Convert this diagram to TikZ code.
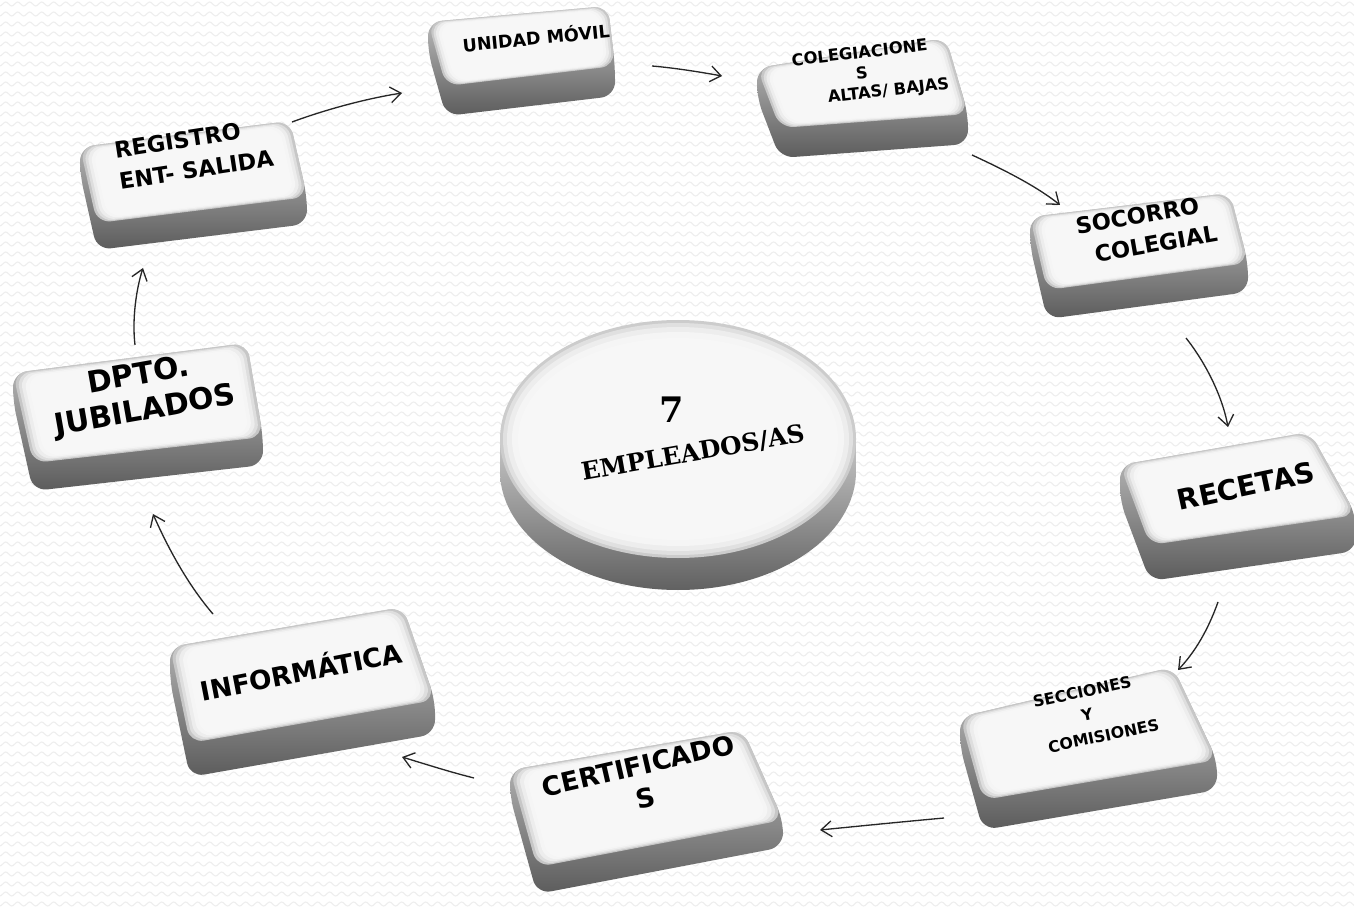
\documentclass[tikz,border=0pt]{standalone}
\usepackage{fontspec}
\usetikzlibrary{calc,arrows.meta,decorations.pathmorphing}
\newfontfamily\btnfont{DejaVu Sans}
\newfontfamily\diskfont{DejaVu Serif}
\newcommand\slab[6]{%
  \coordinate (#1-a) at (#2);
  \coordinate (#1-b) at (#3);
  \coordinate (#1-c) at (#4);
  \coordinate (#1-d) at (#5);
  \shade[top color=black!22, bottom color=black!64, rounded corners=8pt]
    (#1-a) -- (#1-b) -- (#1-c) -- ($(#1-c)+(0,#6)$) -- ($(#1-d)+(0,#6)$) -- ($(#1-a)+(0,#6)$) -- cycle;
  \foreach \ff/\cc in {0/black!22,0.012/black!13,0.025/black!7,0.04/black!4,0.055/white!97!black}{
    \fill[\cc, rounded corners=8pt] ($(#1-a)!\ff!(#1-c)$) -- ($(#1-b)!\ff!(#1-d)$) -- ($(#1-c)!\ff!(#1-a)$) -- ($(#1-d)!\ff!(#1-b)$) -- cycle;}
}
\tikzset{
  bgline/.style={draw=gray!13, line width=0.6pt, decorate, decoration={snake, segment length=0.24cm, amplitude=0.04cm}},
  btn/.style={text=black, align=center, inner sep=0pt, font=\btnfont\bfseries},
  flow/.style={draw=black!85, line width=0.75pt, -{Straight Barb[length=6pt,width=9pt]}}
}
\begin{document}
\begin{tikzpicture}[x=0.02cm, y=-0.02cm]
\useasboundingbox (0,0) rectangle (1354,908);
\clip (0,0) rectangle (1354,908);
\fill[white] (0,0) rectangle (1354,908);
\foreach \yy in {4,14,...,904} \draw[bgline] (-10,\yy) -- (1364,\yy);

% central disk
\shade[top color=black!22, bottom color=black!62] (500,439) -- (500,471) arc[start angle=180, end angle=0, x radius=178, y radius=119] -- (856,439) -- cycle;
\fill[black!20] (678,439) ellipse [x radius=178, y radius=119];
\fill[black!12] (678,439) ellipse [x radius=175, y radius=116];
\fill[black!7] (678,439) ellipse [x radius=171, y radius=112];
\fill[black!4] (678,439) ellipse [x radius=166, y radius=107];
\fill[white!97!black] (678,439) ellipse [x radius=160, y radius=101];
\node[text=black, inner sep=0pt, font=\diskfont\bfseries\fontsize{20}{22}\selectfont] (seven) at (672,410) {7};
\node[text=black, inner sep=0pt, font=\diskfont\bfseries\fontsize{14}{16}\selectfont, rotate=10] (emp) at (693,453) {EMPLEADOS/AS};

% buttons
\slab{unidad}{428,22}{608,6}{615,66}{446,86}{30}
\slab{coleg}{757,68}{946,38}{968,114}{780,128}{30}
\slab{regis}{80,147}{290,121}{307,197}{97,223}{27}
\slab{socorro}{1030,217}{1230,193}{1248,263}{1047,290}{29}
\slab{dpto}{13,373}{247,343}{263,437}{33,463}{28}
\slab{recetas}{1120,465}{1310,432}{1356,515}{1150,545}{36}
\slab{info}{170,647}{403,607}{435,700}{190,743}{34}
\slab{secc}{960,717}{1173,667}{1217,760}{983,800}{30}
\slab{cert}{510,770}{743,730}{783,820}{537,867}{27}

\node[btn, font=\btnfont\bfseries\fontsize{10}{11}\selectfont, rotate=5.6] (tUnidad) at (536,37) {UNIDAD MÓVIL};
\node[btn, font=\btnfont\bfseries\fontsize{9.3}{11.5}\selectfont, rotate=6.5] (tColeg) at (862,74) {COLEGIACIONE\\S\\\hspace*{3em}ALTAS/ BAJAS};
\node[btn, align=left, font=\btnfont\bfseries\fontsize{12.8}{18}\selectfont, rotate=8.7] (tRegis) at (194,154) {REGISTRO\\ENT- SALIDA};
\node[btn, font=\btnfont\bfseries\fontsize{12.8}{17.5}\selectfont, rotate=10] (tSocorro) at (1140,231) {SOCORRO\\\hspace*{1.2em}COLEGIAL};
\node[btn, font=\btnfont\bfseries\fontsize{17}{20.5}\selectfont, rotate=10] (tDpto) at (142,394) {DPTO.\\JUBILADOS};
\node[btn, font=\btnfont\bfseries\fontsize{16}{18}\selectfont, rotate=12] (tRecetas) at (1246,486) {RECETAS};
\node[btn, font=\btnfont\bfseries\fontsize{15}{17}\selectfont, rotate=11] (tInfo) at (301,670) {INFORMÁTICA};
\node[btn, font=\btnfont\bfseries\fontsize{9}{13.5}\selectfont, rotate=12] (tSecc) at (1087,715) {SECCIONES\\Y\\\hspace*{1.5em}COMISIONES};
\node[btn, font=\btnfont\bfseries\fontsize{15}{19}\selectfont, rotate=13] (tCert) at (642,782) {CERTIFICADO\\S};

% connector end points
\coordinate (p1s) at (292,122); \coordinate (p1e) at (402,93);
\coordinate (p2s) at (652,66);  \coordinate (p2e) at (722,76);
\coordinate (p3s) at (972,155); \coordinate (p3e) at (1060,205);
\coordinate (p4s) at (1186,338); \coordinate (p4e) at (1228,427);
\coordinate (p5s) at (1218,602); \coordinate (p5e) at (1178,670);
\coordinate (p6s) at (944,818); \coordinate (p6e) at (820,830);
\coordinate (p7s) at (474,778); \coordinate (p7e) at (402,757);
\coordinate (p8s) at (213,614); \coordinate (p8e) at (153,514);
\coordinate (p9s) at (135,345); \coordinate (p9e) at (143,268);

\draw[flow] (p1s) .. controls (330,108) and (370,98) .. (p1e);
\draw[flow] (p2s) .. controls (675,68) and (700,72) .. (p2e);
\draw[flow] (p3s) .. controls (1000,168) and (1035,185) .. (p3e);
\draw[flow] (p4s) .. controls (1205,362) and (1222,395) .. (p4e);
\draw[flow] (p5s) .. controls (1208,630) and (1195,652) .. (p5e);
\draw[flow] (p6s) .. controls (900,822) and (860,826) .. (p6e);
\draw[flow] (p7s) .. controls (450,772) and (425,764) .. (p7e);
\draw[flow] (p8s) .. controls (188,585) and (168,548) .. (p8e);
\draw[flow] (p9s) .. controls (132,320) and (136,290) .. (p9e);
\end{tikzpicture}
\end{document}
